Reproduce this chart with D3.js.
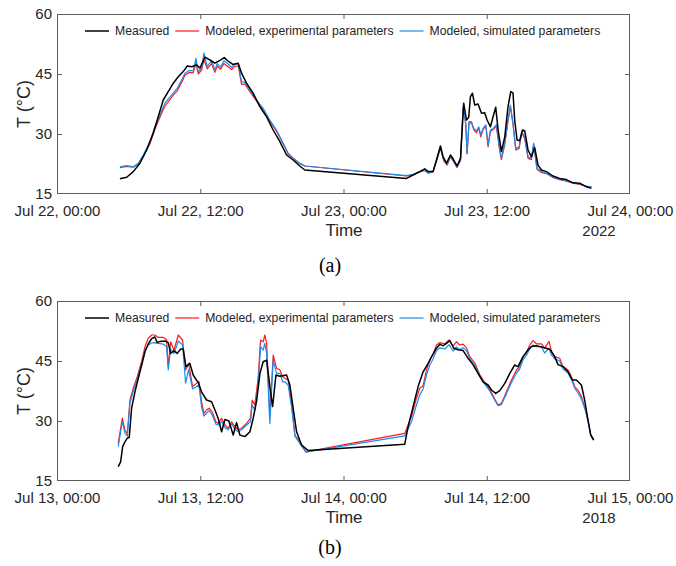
<!DOCTYPE html>
<html>
<head>
<meta charset="utf-8">
<script src="https://cdn.jsdelivr.net/npm/d3@7"></script>
<style>
  html, body { margin: 0; padding: 0; background: #fff; }
  svg { display: block; }
</style>
</head>
<body>
<svg id="chart" width="676" height="566"></svg>
<script>
// ---------------- DATA (hours since panel start date, temperature in °C) ----------------
const seriesNames = ["Measured", "Modeled, experimental parameters", "Modeled, simulated parameters"];
const yTicks = [15, 30, 45, 60];
const panelLabels = ["(a)", "(b)"];
const panelYears = ["2022", "2018"];
const panelStarts = [[2022, 6, 22], [2018, 6, 13]];

// Panel (a): Jul 22-23, 2022
const measuredA = [[5.27,18.8],[5.84,19.2],[6.39,20.6],[6.95,22.7],[7.51,26],[8.06,30.2],[8.48,34.3],[8.90,38.5],[9.32,40.6],[9.74,42.7],[10.16,44.3],[10.57,45.6],[10.91,47],[11.28,46.8],[11.70,47.25],[11.97,46.5],[12.39,49.2],[12.81,48.5],[13.23,47.7],[13.65,48.4],[14.01,49.1],[14.34,48.2],[14.73,47.4],[15.18,47.7],[15.46,45.2],[15.88,42.7],[16.43,40.2],[17.0,36.8],[17.56,34.3],[18.11,31],[18.67,28.1],[19.23,24.75],[19.78,23.5],[20.34,22],[20.76,21],
[29.28,18.9],[29.83,19.75],[30.39,20.6],[30.81,21.3],[31.09,20.6],[31.5,20.6],[31.79,23.5],[32.12,27],[32.34,24.3],[32.63,22.7],[32.96,24.75],[33.18,23.8],[33.51,22],[33.8,23.9],[34.07,37.7],[34.3,33.5],[34.49,34.2],[34.63,39.3],[34.8,40.2],[34.99,37.25],[35.27,37.5],[35.56,35.2],[35.83,35.3],[36.03,33.5],[36.31,31.8],[36.53,34.3],[36.75,36.7],[36.95,31],[37.23,25.6],[37.51,29.3],[37.78,36.8],[38.01,40.6],[38.2,40.3],[38.34,33.5],[38.54,28.5],[38.76,28.3],[38.99,31],[39.18,30.8],[39.46,26],[39.74,24.3],[40.02,26.6],[40.29,22.25],[40.58,21],[41.0,20.6],[41.55,19.5],[42.11,18.9],[42.67,18.6],[43.22,17.8],[43.79,17.7],[44.35,16.8],[44.77,16.4]];

const experimentalA = [[5.27,21.6],[5.84,21.9],[6.39,21.7],[6.81,22.5],[7.23,24.5],[7.79,27.6],[8.2,31.2],[8.62,34.2],[9.04,37.0],[9.46,38.6],[9.74,39.7],[10.07,40.8],[10.44,42.9],[10.72,44.7],[11.08,45.4],[11.41,45.3],[11.64,47.8],[11.83,45.0],[12.11,46.0],[12.31,48.6],[12.58,46.3],[12.95,47.6],[13.23,45.4],[13.42,47.0],[13.7,46.2],[13.98,47.6],[14.34,46.8],[14.63,46.1],[14.9,46.9],[15.18,47.0],[15.46,42.4],[15.74,42.5],[16.16,40.6],[16.72,38.2],[17.27,36.1],[17.83,33.2],[18.39,30.7],[18.95,27.5],[19.36,25.0],[19.78,23.9],[20.34,22.6],[20.76,22.0],
[29.28,19.5],[29.83,19.8],[30.39,20.5],[30.81,20.9],[31.09,20.2],[31.5,20.5],[31.84,23.7],[32.12,26.5],[32.4,23.3],[32.68,22.2],[32.96,24.3],[33.18,23.3],[33.51,21.6],[33.8,23.3],[34.02,36.6],[34.24,32.5],[34.35,25.0],[34.52,32.8],[34.72,32.8],[34.91,31.1],[35.14,30.3],[35.33,31.5],[35.5,29.3],[35.69,31.1],[35.92,32.0],[36.11,26.8],[36.31,30.7],[36.53,31.1],[36.81,32.0],[37.03,26.9],[37.23,23.6],[37.51,27.4],[37.78,33.2],[37.98,36.9],[38.2,32.4],[38.43,26.0],[38.71,26.4],[38.93,30.3],[39.18,28.9],[39.46,23.9],[39.74,23.6],[39.93,27.4],[40.21,21.2],[40.58,20.4],[41.0,20.1],[41.55,19.1],[42.11,18.6],[42.67,18.2],[43.22,17.7],[43.79,17.4],[44.35,16.9],[44.77,16.7]];

const simulatedA = [[5.27,21.8],[5.84,22.1],[6.39,21.8],[6.81,22.7],[7.23,24.75],[7.79,28.1],[8.2,31.8],[8.62,34.75],[9.04,37.7],[9.46,39.3],[9.74,40.2],[10.07,41.4],[10.44,43.5],[10.72,45.2],[11.08,45.9],[11.41,45.8],[11.64,48.9],[11.83,45.6],[12.11,46.5],[12.31,50.2],[12.58,46.9],[12.95,48.3],[13.23,46],[13.42,47.6],[13.7,46.7],[13.98,48.3],[14.34,47.5],[14.63,46.6],[14.9,47.5],[15.18,47.5],[15.46,43.1],[15.74,42.9],[16.16,41],[16.72,38.5],[17.27,36.4],[17.83,33.5],[18.39,31],[18.95,27.7],[19.36,25.2],[19.78,24],[20.34,22.7],[20.76,22],
[29.28,19.6],[29.83,19.9],[30.39,20.6],[30.81,21],[31.09,20.3],[31.5,20.6],[31.84,23.9],[32.12,26.7],[32.4,23.5],[32.68,22.4],[32.96,24.5],[33.18,23.5],[33.51,21.8],[33.8,23.5],[34.02,36.8],[34.24,32.7],[34.35,25.2],[34.52,33.1],[34.72,33.1],[34.91,31.4],[35.14,30.8],[35.33,31.8],[35.5,29.75],[35.69,31.4],[35.92,32.3],[36.11,27.25],[36.31,31],[36.53,31.4],[36.81,32.3],[37.03,27.25],[37.23,23.9],[37.51,27.7],[37.78,33.5],[37.98,37.25],[38.2,32.7],[38.43,26.4],[38.71,26.8],[38.93,30.6],[39.18,29.3],[39.46,24.3],[39.74,23.9],[39.93,27.7],[40.21,21.4],[40.58,20.6],[41.0,20.2],[41.55,19.2],[42.11,18.7],[42.67,18.3],[43.22,17.8],[43.79,17.5],[44.35,17],[44.77,16.8]];

// Panel (b): Jul 13-14, 2018
const measuredB = [[5.13,18.6],[5.33,19.8],[5.5,23.6],[5.69,24.8],[5.89,25.7],[6.05,25.9],[6.25,33.2],[6.53,37.3],[6.81,40.7],[7.09,44],[7.37,47.3],[7.64,49.25],[7.93,50.6],[8.2,51],[8.4,49.6],[8.62,49.9],[9.04,50],[9.32,49.6],[9.52,46.9],[9.8,47.6],[10.07,46.9],[10.36,48],[10.57,48],[10.8,43.6],[11.13,44.4],[11.41,41.5],[11.83,39.6],[12.11,37.3],[12.53,35.25],[12.95,34.8],[13.23,32.75],[13.5,30.7],[13.79,27.3],[14.07,30.4],[14.4,30],[14.76,26.5],[15.04,29.6],[15.32,26.5],[15.74,26.1],[16.16,27.3],[16.43,30.6],[16.72,35],[17.0,41.9],[17.27,44.8],[17.56,45.2],[17.89,37.3],[18.06,33.6],[18.34,41.5],[18.67,41.2],[19.23,41.5],[19.51,39],[19.78,33.2],[20.07,27.3],[20.49,24],[21.04,22.6],
[29.13,24.2],[29.41,28.6],[29.83,33.6],[30.25,38.6],[30.67,42.3],[31.09,44.4],[31.37,46],[31.79,48.2],[32.07,49.2],[32.34,48.8],[32.63,49.4],[32.9,50.1],[33.24,48.2],[33.6,47.8],[34.02,47.6],[34.43,45.7],[34.85,44.1],[35.27,41.9],[35.69,39.8],[36.11,39],[36.39,37.75],[36.75,36.9],[37.09,37.6],[37.51,39.4],[37.93,41.9],[38.34,44],[38.62,43.6],[39.04,46.1],[39.46,47.8],[39.74,48.6],[40.16,48.8],[40.58,48.5],[41.0,48.2],[41.33,47.8],[41.69,46.1],[41.97,44.1],[42.39,43.6],[42.81,42.3],[43.17,40.25],[43.51,40.25],[43.93,39],[44.2,35.25],[44.48,30.25],[44.71,26.5],[44.96,25.25]];

const experimentalB = [[5.13,24.4],[5.47,30.7],[5.69,27.8],[5.89,26.8],[6.11,35.25],[6.39,38.2],[6.72,41.1],[7.09,44.9],[7.37,48.6],[7.64,50.7],[7.93,51.5],[8.2,51.5],[8.48,50.9],[8.9,50.9],[9.18,50.4],[9.32,43.6],[9.52,49.8],[9.8,47.7],[10.16,51.5],[10.52,50.25],[10.77,42.75],[11.02,44.4],[11.36,38.6],[11.89,39.9],[12.11,34.8],[12.31,31.9],[12.53,32.75],[12.75,33.2],[13.0,32.3],[13.31,29.8],[13.51,29.4],[13.79,30.7],[14.07,29.0],[14.34,28.2],[14.63,29.8],[14.9,28.6],[15.18,27.8],[15.46,28.2],[15.88,29.4],[16.21,30.7],[16.35,35.25],[16.57,34.0],[16.85,40.7],[17.05,50.25],[17.27,49.8],[17.41,51.5],[17.56,49.4],[17.83,31.1],[18.11,46.5],[18.39,43.2],[18.67,42.8],[18.9,41.1],[19.09,40.7],[19.36,40.25],[19.65,34.4],[19.93,26.5],[20.34,24.8],[20.85,22.3],
[29.13,26.9],[29.7,31.1],[30.11,35.7],[30.39,38.2],[30.67,38.8],[30.95,42.75],[31.23,45.25],[31.5,46.8],[31.79,49.0],[32.07,49.6],[32.48,49.3],[32.84,50.25],[33.18,48.8],[33.46,49.8],[33.74,49.0],[34.02,49.2],[34.3,48.3],[34.58,46.1],[35.0,44.5],[35.41,41.6],[35.83,39.6],[36.25,37.9],[36.67,35.5],[36.95,34.0],[37.23,34.4],[37.65,37.3],[38.07,40.25],[38.49,42.75],[38.76,43.6],[39.04,46.1],[39.32,47.0],[39.6,49.0],[39.88,50.1],[40.16,49.3],[40.58,49.3],[40.85,48.2],[41.22,49.9],[41.42,47.4],[41.69,46.1],[42.11,45.7],[42.39,43.6],[42.81,42.75],[43.09,41.1],[43.37,38.6],[43.65,37.7],[43.93,36.1],[44.2,33.6],[44.48,30.25],[44.71,26.5],[44.96,25.25]];

const simulatedB = [[5.13,23.6],[5.47,29.9],[5.69,27.0],[5.89,26.2],[6.11,34.4],[6.39,37.5],[6.72,40.4],[7.09,44.0],[7.37,47.6],[7.64,49.0],[7.93,49.5],[8.2,49.6],[8.48,49.4],[8.9,49.2],[9.18,48.6],[9.32,42.8],[9.52,48.0],[9.8,46.9],[10.16,50.0],[10.52,49.0],[10.77,39.5],[11.02,42.8],[11.36,38.0],[11.89,39.0],[12.11,33.5],[12.31,31.2],[12.53,32.0],[12.75,32.6],[13.0,31.5],[13.31,29.2],[13.51,29.0],[13.79,29.9],[14.07,28.3],[14.34,27.8],[14.63,29.3],[14.9,27.9],[15.18,27.3],[15.46,27.8],[15.88,29.0],[16.21,29.8],[16.35,34.0],[16.57,32.75],[16.85,39.0],[17.05,48.6],[17.27,47.7],[17.41,49.4],[17.56,46.9],[17.83,29.4],[18.11,45.2],[18.39,41.9],[18.67,41.9],[18.9,39.8],[19.09,39.8],[19.36,39.0],[19.65,33.6],[19.93,26.2],[20.34,24.4],[20.85,22.2],
[29.13,26.3],[29.7,29.8],[30.11,34.0],[30.39,36.5],[30.67,38.0],[30.95,41.5],[31.23,44.0],[31.5,45.5],[31.79,47.6],[32.07,48.3],[32.48,48.0],[32.84,49.1],[33.18,47.5],[33.46,48.5],[33.74,47.8],[34.02,48.3],[34.3,47.6],[34.58,45.6],[35.0,44.0],[35.41,41.2],[35.83,39.2],[36.25,37.5],[36.67,35.2],[36.95,33.8],[37.23,34.1],[37.65,36.8],[38.07,39.6],[38.49,42.0],[38.76,43.0],[39.04,45.3],[39.32,46.4],[39.6,48.0],[39.88,49.0],[40.16,48.6],[40.58,48.6],[40.85,47.0],[41.22,48.2],[41.42,46.5],[41.69,45.6],[42.11,45.0],[42.39,43.0],[42.81,42.0],[43.09,40.4],[43.37,38.2],[43.65,37.0],[43.93,35.5],[44.2,33.2],[44.48,30.0],[44.71,26.5],[44.96,25.2]];

// ---------------- DRAWING ----------------
const svg = d3.select("#chart");
const FONT = "'Liberation Sans', Arial, Helvetica, sans-serif";
const TEXT_COLOR = "#262626";
const AXIS_COLOR = "#5e5e5e";
const colors = ["#000000", "#ff1a1a", "#1a8cf0"];
const widths = [1.5, 1.2, 1.2];

const left = 57, right = 630, plotH = 180;
const panelTops = [14, 301];
const labelBaselines = [272, 554];
const panelData = [[measuredA, experimentalA, simulatedA], [measuredB, experimentalB, simulatedB]];

panelTops.forEach((top, p) => {
  const [yy, mm, dd] = panelStarts[p];
  const start = new Date(yy, mm, dd, 0, 0, 0);
  const end = new Date(yy, mm, dd + 2, 0, 0, 0);
  const toDate = h => new Date(start.getTime() + h * 3600 * 1000);

  const x = d3.scaleTime().domain([start, end]).range([left, right]);
  const y = d3.scaleLinear().domain([15, 60]).range([top + plotH, top]);

  const g = svg.append("g");

  // axes
  const xTickVals = d3.timeHour.every(12).range(start, new Date(end.getTime() + 1));
  const fmt = d3.timeFormat("%b %d, %H:%M");

  const xb = g.append("g").attr("transform", `translate(0,${top + plotH})`)
    .call(d3.axisBottom(x).tickValues(xTickVals).tickFormat(fmt).tickSizeInner(-5).tickSizeOuter(0).tickPadding(11));
  const xt = g.append("g").attr("transform", `translate(0,${top})`)
    .call(d3.axisTop(x).tickValues(xTickVals).tickFormat("").tickSizeInner(-5).tickSizeOuter(0));
  const yl = g.append("g").attr("transform", `translate(${left},0)`)
    .call(d3.axisLeft(y).tickValues(yTicks).tickFormat(d3.format("d")).tickSizeInner(-5).tickSizeOuter(0).tickPadding(5));
  const yr = g.append("g").attr("transform", `translate(${right},0)`)
    .call(d3.axisRight(y).tickValues(yTicks).tickFormat("").tickSizeInner(-5).tickSizeOuter(0));

  [xb, xt, yl, yr].forEach(a => {
    a.select(".domain").remove();
    a.selectAll("line").attr("stroke", AXIS_COLOR).attr("stroke-width", 1);
    a.selectAll("text").attr("fill", TEXT_COLOR).style("font-family", FONT).style("font-size", "15px");
  });
  [xb, xt].forEach(a => a.selectAll(".tick").filter((d, i, n) => i === 0 || i === n.length - 1).select("line").remove());
  [yl, yr].forEach(a => a.selectAll(".tick").filter(d => d === 15 || d === 60).select("line").remove());

  // box
  g.append("rect")
    .attr("x", left + 0.5).attr("y", top + 0.5)
    .attr("width", right - left - 1).attr("height", plotH - 1)
    .attr("fill", "none").attr("stroke", AXIS_COLOR).attr("stroke-width", 1);

  // lines: experimental, simulated, then measured on top
  const line = d3.line().x(d => x(toDate(d[0]))).y(d => y(d[1]));
  [1, 2, 0].forEach(s => {
    g.append("path")
      .datum(panelData[p][s])
      .attr("d", line)
      .attr("fill", "none")
      .attr("stroke", colors[s])
      .attr("stroke-width", widths[s])
      .attr("stroke-linejoin", "round");
  });

  // legend
  const ly = top + 17;
  let lx = 85;
  seriesNames.forEach((name, s) => {
    g.append("line").attr("x1", lx).attr("x2", lx + 24).attr("y1", ly).attr("y2", ly)
      .attr("stroke", colors[s]).attr("stroke-width", widths[s]);
    const t = g.append("text").attr("x", lx + 30).attr("y", ly).attr("dy", "0.35em")
      .style("font-family", FONT).style("font-size", "12.2px").attr("fill", TEXT_COLOR).text(name);
    lx = lx + 30 + t.node().getComputedTextLength() + 6;
  });

  // axis titles
  g.append("text").attr("x", 344).attr("y", top + plotH + 42).attr("text-anchor", "middle")
    .style("font-family", FONT).style("font-size", "17px").attr("fill", TEXT_COLOR).text("Time");
  g.append("text").attr("x", 599).attr("y", top + plotH + 42).attr("text-anchor", "middle")
    .style("font-family", FONT).style("font-size", "15px").attr("fill", TEXT_COLOR).text(panelYears[p]);
  g.append("text").attr("transform", `translate(30,${top + plotH / 2}) rotate(-90)`).attr("text-anchor", "middle")
    .style("font-family", FONT).style("font-size", "18px").attr("fill", TEXT_COLOR).text("T (°C)");

  // panel label
  g.append("text").attr("x", 330).attr("y", labelBaselines[p]).attr("text-anchor", "middle")
    .style("font-family", "'Liberation Serif', 'DejaVu Serif', serif").style("font-size", "20px")
    .attr("fill", "#000").text(panelLabels[p]);
});
</script>
</body>
</html>
